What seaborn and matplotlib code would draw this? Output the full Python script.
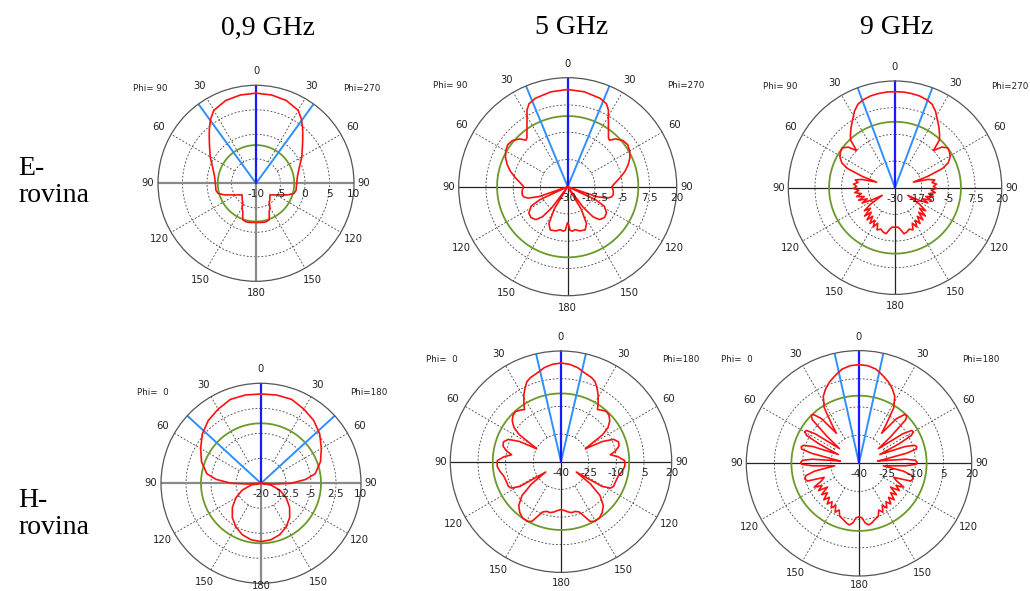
import numpy as np
import matplotlib
matplotlib.use("Agg")
import matplotlib.pyplot as plt
from matplotlib import transforms
import seaborn as sns
import pandas as pd

# ---------------- data (half patterns, symmetric about 0-180 axis) ----------------
col_titles = ["0,9 GHz", "5 GHz", "9 GHz"]
row_labels = ["E-\nrovina", "H-\nrovina"]

# E-plane, 0.9 GHz
e09_ang = [0, 10, 20, 30, 35, 40, 45, 50, 60, 70, 80, 90, 100, 105, 110, 115, 120, 125,
           130, 135, 140, 145, 150, 155, 160, 165, 170, 180]
e09_db = [8.4, 8.3, 8.0, 7.2, 6.1, 4.8, 3.5, 2.4, 0.8, -0.6, -1.4, -1.7, -1.7, -2.0, -3.1,
          -4.4, -5.2, -5.9, -6.3, -6.0, -5.6, -5.3, -4.3, -3.6, -2.1, -1.9, -1.9, -2.0]
e09_ticks = [-10, -5, 0, 5, 10]
e09_green = -2.2
e09_beam = 36

# E-plane, 5 GHz
e5_ang = [0, 10, 20, 25, 28, 30, 35, 40, 42, 45, 50, 55, 60, 65, 70, 75, 80, 85, 90, 95,
          100, 103, 106, 109, 112, 115, 118, 124, 130, 136, 140, 143, 146, 149, 153, 158,
          165, 170, 174, 177, 179, 180]
e5_db = [14.6, 14.2, 13.2, 12.0, 9.8, 7.3, 2.6, -0.9, -1.3, 1.0, 3.0, 3.6, 2.8, 1.5, -0.5,
         -2.8, -5.5, -8.0, -9.8, -9.0, -8.8, -9.3, -11, -16, -30, -16, -11, -8.5, -8.0, -9,
         -12, -18, -30, -18, -11, -8.6, -9, -10, -9.5, -10, -13, -13.5]
e5_ticks = [-30, -17.5, -5, 7.5, 20]
e5_green = 2.4
e5_beam = 22.5

# E-plane, 9 GHz
e9_ang = [0, 5, 10, 15, 20, 24, 28, 32, 36, 40, 43, 46, 49, 53, 57, 61, 65, 68, 71, 73, 76,
          79, 82, 85, 88, 91, 94, 97, 100, 103, 106, 109, 112, 115, 118, 121, 124, 127, 130,
          133, 136, 139, 142, 145, 148, 151, 154, 157, 161, 165, 169, 173, 176, 180]
e9_db = [15.0, 15.0, 14.8, 14.5, 13.8, 12.8, 10.5, 7.5, 5.0, 2.5, 0.5, -5.0, -1.0, 1.0, 0.5,
         -0.5, -2.5, -6, -14, -21, -14, -11, -12.5, -10.5, -12, -10.5, -13, -11, -14, -11.5,
         -15, -12, -16, -13, -18, -23, -16, -12, -15, -10.5, -14, -10, -13, -9.5, -12, -9,
         -11.5, -8.5, -9.5, -8.5, -8.0, -10.5, -11.5, -11.5]
e9_ticks = [-30, -17.5, -5, 7.5, 20]
e9_green = 0.9
e9_beam = 20.5

# H-plane, 0.9 GHz
h09_ang = [0, 10, 20, 30, 40, 50, 60, 70, 80, 85, 90, 93, 96, 100, 110, 120, 130, 140, 150,
           160, 170, 180]
h09_db = [6.8, 6.9, 6.8, 5.7, 4.6, 3.0, 0.9, -1.0, -3.5, -6.5, -11, -16, -20, -17, -14,
          -11.3, -8.8, -6.6, -4.9, -3.6, -2.8, -2.5]
h09_ticks = [-20, -12.5, -5, 2.5, 10]
h09_green = -2.0
h09_beam = 47.5

# H-plane, 5 GHz
h5_ang = [0, 5, 10, 13, 16, 20, 23, 26, 29, 32, 35, 38, 42, 46, 50, 54, 57, 60, 62, 64, 67,
          71, 75, 79, 82, 85, 89, 94, 99, 104, 110, 115, 118, 121, 124, 127, 131, 136, 141,
          146, 151, 154, 157, 160, 164, 168, 172, 176, 180]
h5_db = [13.5, 13.0, 11.8, 10.5, 9.5, 8.5, 7.2, 4.5, 1.5, -2.0, -5.5, -4.5, -3.3, -3.8, -5.5,
         -8.5, -13, -22, -25, -15, -9, -7.0, -7.5, -10, -13, -9, -5.5, -5.3, -6.5, -8.0,
         -8.5, -8.5, -9.5, -14, -30, -20, -12, -7, -4.5, -3.0, -3.0, -4.0, -8, -11, -12,
         -11.8, -12.5, -13.5, -14]
h5_ticks = [-40, -25, -10, 5, 20]
h5_green = -3.0
h5_beam = 13

# H-plane, 9 GHz
h9_ang = [0, 5, 10, 13, 16, 20, 24, 28, 32, 35, 37, 40, 43, 45, 47, 50, 53, 56, 58, 60, 62,
          64, 67, 70, 72, 74, 76, 78, 81, 83, 85, 87, 89, 91, 93, 96, 100, 103, 106, 109,
          112, 115, 118, 121, 124, 127, 130, 133, 136, 139, 142, 145, 148, 151, 154, 157,
          160, 164, 168, 171, 174, 177, 180]
h9_db = [12.5, 12.2, 11.0, 9.5, 8.0, 6.0, 3.5, 0.5, -5, -15, -20, -9, -4.5, -4, -6, -18,
         -27, -12, -7, -6.5, -8.5, -16, -28, -14, -9, -8, -8.5, -14, -26, -30, -15, -10,
         -9, -9.5, -15, -27, -16, -11, -10, -11, -20, -18, -13, -17, -14, -19, -14, -17,
         -13, -16, -12.5, -15, -12, -14.5, -11, -13, -10, -9, -7.5, -6.8, -8, -11, -11.5]
h9_ticks = [-40, -25, -10, 5, 20]
h9_green = -4.0
h9_beam = 12.5

# ---------------- layout ----------------
W, H = 1030, 591
sns.set_style("white")
plt.rcParams["font.family"] = ["DejaVu Sans"]
fig = plt.figure(figsize=(W / 100, H / 100), dpi=100)

panels = [
    dict(ang=e09_ang, db=e09_db, ticks=e09_ticks, green=e09_green, beam=e09_beam,
         c=(256, 183.3), R=98, phi=("Phi= 90", "Phi=270"), axcol="#8a8a8a", axlw=1.6,
         boff=12, phiy=0.97),
    dict(ang=e5_ang, db=e5_db, ticks=e5_ticks, green=e5_green, beam=e5_beam,
         c=(567.7, 186.7), R=109, phi=("Phi= 90", "Phi=270"), axcol="#222222", axlw=0.9,
         boff=12, phiy=0.93),
    dict(ang=e9_ang, db=e9_db, ticks=e9_ticks, green=e9_green, beam=e9_beam,
         c=(895, 187.7), R=106.7, phi=("Phi= 90", "Phi=270"), axcol="#222222", axlw=0.9,
         boff=12, phiy=0.95),
    dict(ang=h09_ang, db=h09_db, ticks=h09_ticks, green=h09_green, beam=h09_beam,
         c=(261, 483.3), R=100, phi=("Phi=  0", "Phi=180"), axcol="#8a8a8a", axlw=1.6,
         boff=2.5, phiy=0.91),
    dict(ang=h5_ang, db=h5_db, ticks=h5_ticks, green=h5_green, beam=h5_beam,
         c=(561, 461.7), R=110.7, phi=("Phi=  0", "Phi=180"), axcol="#222222", axlw=0.9,
         boff=11, phiy=0.92),
    dict(ang=h9_ang, db=h9_db, ticks=h9_ticks, green=h9_green, beam=h9_beam,
         c=(859, 463.3), R=112.7, phi=("Phi=  0", "Phi=180"), axcol="#222222", axlw=0.9,
         boff=9, phiy=0.92),
]

circ = np.linspace(0, 2 * np.pi, 721)
TXT = "#222222"

for p in panels:
    cx, cy = p["c"]
    R = p["R"]
    ticks = p["ticks"]
    rmin, rmax = ticks[0], ticks[-1]
    ax = fig.add_axes([(cx - R) / W, (H - cy - R) / H, 2 * R / W, 2 * R / H],
                      projection="polar")
    ax.set_theta_zero_location("N")
    ax.set_theta_direction(-1)
    ax.set_facecolor("none")
    ax.grid(False)

    # dotted rings
    for t in ticks[1:-1]:
        ax.plot(circ, np.full_like(circ, t), ls=(0, (2.2, 2.2)), color="#444444", lw=0.6)
    # dotted spokes
    for a in [30, 60, 120, 150, 210, 240, 300, 330]:
        ax.plot([np.deg2rad(a)] * 2, [ticks[1], rmax], ls=(0, (2.2, 2.2)),
                color="#444444", lw=0.6)
    # axis lines
    for a in [90, 270, 180]:
        ax.plot([np.deg2rad(a)] * 2, [rmin, rmax], color=p["axcol"], lw=p["axlw"])
    # green circle
    ax.plot(circ, np.full_like(circ, p["green"]), color="#6b9a2a", lw=1.3)
    # beam width lines and main direction
    for a in [p["beam"], 360 - p["beam"]]:
        ax.plot([np.deg2rad(a)] * 2, [rmin, rmax], color="#2f8fff", lw=1.4)
    ax.plot([0, 0], [rmin, rmax], color="#1a1aff", lw=1.6)

    # red pattern
    half_a = list(p["ang"])
    half_d = list(p["db"])
    full_a = half_a + [360 - a for a in half_a[::-1]][1:]
    full_d = half_d + half_d[::-1][1:]
    df = pd.DataFrame({"theta": np.deg2rad(full_a),
                       "dB": np.clip(full_d, rmin, rmax)})
    sns.lineplot(data=df, x="theta", y="dB", ax=ax, sort=False, estimator=None,
                 color="#ff1010", lw=1.2)

    ax.set_ylim(rmin, rmax)
    ax.set_xticks([])
    ax.set_yticks([])
    ax.set_xlabel("")
    ax.set_ylabel("")
    ax.spines["polar"].set_color("#555555")
    ax.spines["polar"].set_linewidth(0.9)

    # angle labels
    for a in range(0, 360, 30):
        lab = str(a if a <= 180 else 360 - a)
        th = np.deg2rad(a)
        if a == 180:
            off = p["boff"]
        elif a % 180 == 90:
            off = 10
        else:
            off = 14
        tr = transforms.offset_copy(ax.transData, fig=fig, x=off * np.sin(th),
                                    y=off * np.cos(th), units="dots")
        ax.text(th, rmax, lab, transform=tr, ha="center", va="center",
                fontsize=7.2, color=TXT, clip_on=False)
    # radial labels
    for t in ticks:
        lab = ("%g" % t)
        tr = transforms.offset_copy(ax.transData, fig=fig, x=0, y=-11, units="dots")
        ax.text(np.deg2rad(90), t, lab, transform=tr, ha="center", va="center",
                fontsize=7.6, color=TXT, clip_on=False)

    # Phi labels
    fig.text((cx - 1.08 * R) / W, (H - (cy - p["phiy"] * R)) / H, p["phi"][0],
             ha="center", va="center", fontsize=6.3, color=TXT)
    fig.text((cx + 1.08 * R) / W, (H - (cy - p["phiy"] * R)) / H, p["phi"][1],
             ha="center", va="center", fontsize=6.3, color=TXT)

# column titles
for t, x in zip(col_titles, [268, 572, 897]):
    fig.text(x / W, (H - 28) / H, t, ha="center", va="center", fontsize=20,
             family="Liberation Serif", color="black")
# row labels
for t, y in zip(row_labels, [182, 514]):
    fig.text(18 / W, (H - y) / H, t, ha="left", va="center", fontsize=20,
             family="Liberation Serif", color="black", linespacing=1.15)

fig.savefig("out.png", dpi=100)
